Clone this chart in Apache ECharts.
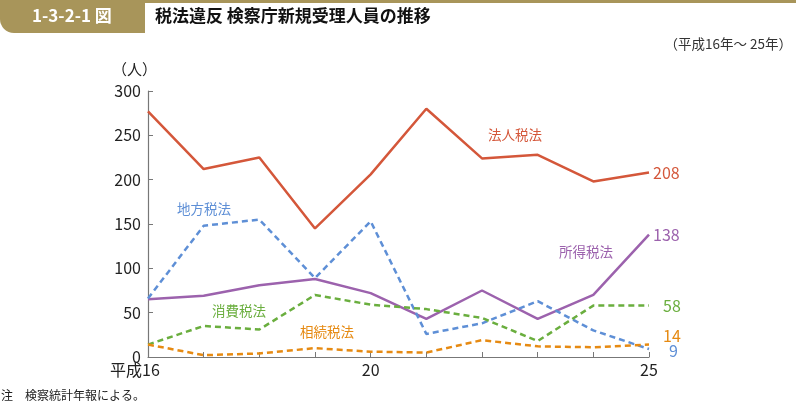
<!DOCTYPE html>
<html><head><meta charset="utf-8">
<script src="https://cdn.jsdelivr.net/npm/echarts@6/dist/echarts.min.js"></script>
<style>html,body{margin:0;padding:0;background:#fff}#c{width:796px;height:405px}</style>
</head><body><div id="c"></div>
<script>
const categories = ['平成16','17','18','19','20','21','22','23','24','25'];
const shownTicks = ['平成16','20','25'];
const yTicks = [0,50,100,150,200,250,300];
const houjin = [277,212,225,145,206,280,224,228,198,208];
const chihou = [66,148,155,89,153,26,38,63,30,9];
const shotoku = [65,69,81,88,72,43,75,43,70,138];
const shouhi = [14,35,31,70,59,54,44,18,58,58];
const souzoku = [14,2,4,10,6,5,19,12,11,14];

const FONT = '"Noto Sans CJK JP","Noto Sans",sans-serif';
const C = {red:'#d4573a', blue:'#5e8fd6', purple:'#9c62ad', green:'#6aae3e', orange:'#e68a12'};

function mkSeries(name, data, color, dashed, lblOffset){
  return {
    name, type:'line', data,
    symbol:'none', silent:true, animation:false,
    endLabel:{show:true, formatter:p=>String(p.value), color, fontSize:16, fontFamily:FONT, distance:4, offset:lblOffset||[0,0]},
    lineStyle:{color, width:2.5, type: dashed ? [6,4] : 'solid'},
    z: dashed ? 3 : 2
  };
}

const chart = echarts.init(document.getElementById('c'), null, {renderer:'canvas'});
chart.setOption({
  animation:false,
  textStyle:{fontFamily:FONT},
  grid:{left:148, right:147, top:91, bottom:48, containLabel:false},
  xAxis:{
    type:'category', data:categories, boundaryGap:false,
    axisLine:{lineStyle:{color:'#777', width:1.2}},
    axisTick:{inside:true, length:5, alignWithLabel:true, interval:0, lineStyle:{color:'#777'}},
    axisLabel:{
      interval:0, color:'#222', fontSize:16, fontFamily:FONT, margin:5,
      formatter:(v,i)=> shownTicks.includes(v) ? (i===0 ? '{p|'+v+'}' : v) : '',
      rich:{p:{padding:[0,26,0,0], fontSize:16, color:'#222', fontFamily:FONT}}
    },
    splitLine:{show:false}
  },
  yAxis:{
    type:'value', min:yTicks[0], max:yTicks[yTicks.length-1], interval:50,
    axisLine:{show:true, lineStyle:{color:'#777', width:1.2}},
    axisTick:{show:true, inside:true, length:5, lineStyle:{color:'#777'}},
    axisLabel:{color:'#222', fontSize:16, fontFamily:FONT, margin:7},
    splitLine:{show:false}
  },
  series:[
    mkSeries('法人税法', houjin, C.red, false),
    mkSeries('所得税法', shotoku, C.purple, false),
    mkSeries('地方税法', chihou, C.blue, true, [16,2]),
    mkSeries('消費税法', shouhi, C.green, true, [10,0]),
    mkSeries('相続税法', souzoku, C.orange, true, [10,-9])
  ],
  graphic:[
    {type:'rect', shape:{x:0,y:0,width:145,height:33,r:[0,0,0,14]}, style:{fill:'#a8955a'}},
    {type:'rect', shape:{x:0,y:0,width:796,height:3}, style:{fill:'#a8955a'}},
    {type:'text', left:32, top:7, style:{text:'1-3-2-1 図', fill:'#fff', fontSize:17, fontWeight:'bold', fontFamily:FONT}},
    {type:'text', left:155, top:7, style:{text:'税法違反 検察庁新規受理人員の推移', fill:'#111', fontSize:17, fontWeight:'bold', fontFamily:FONT}},
    {type:'text', right:4, top:37, style:{text:'（平成16年～ 25年）', fill:'#333', fontSize:13.5, fontFamily:FONT}},
    {type:'text', left:112, top:62, style:{text:'（人）', fill:'#222', fontSize:15, fontFamily:FONT}},
    {type:'text', left:488, top:128, style:{text:'法人税法', fill:C.red, fontSize:13.5, fontFamily:FONT}},
    {type:'text', left:177, top:202, style:{text:'地方税法', fill:C.blue, fontSize:13.5, fontFamily:FONT}},
    {type:'text', left:559, top:245, style:{text:'所得税法', fill:C.purple, fontSize:13.5, fontFamily:FONT}},
    {type:'text', left:212, top:304, style:{text:'消費税法', fill:C.green, fontSize:13.5, fontFamily:FONT}},
    {type:'text', left:300, top:325, style:{text:'相続税法', fill:C.orange, fontSize:13.5, fontFamily:FONT}},
    {type:'text', left:1, top:389, style:{text:'注　検察統計年報による。', fill:'#222', fontSize:12, fontFamily:FONT}}
  ]
});
</script></body></html>
